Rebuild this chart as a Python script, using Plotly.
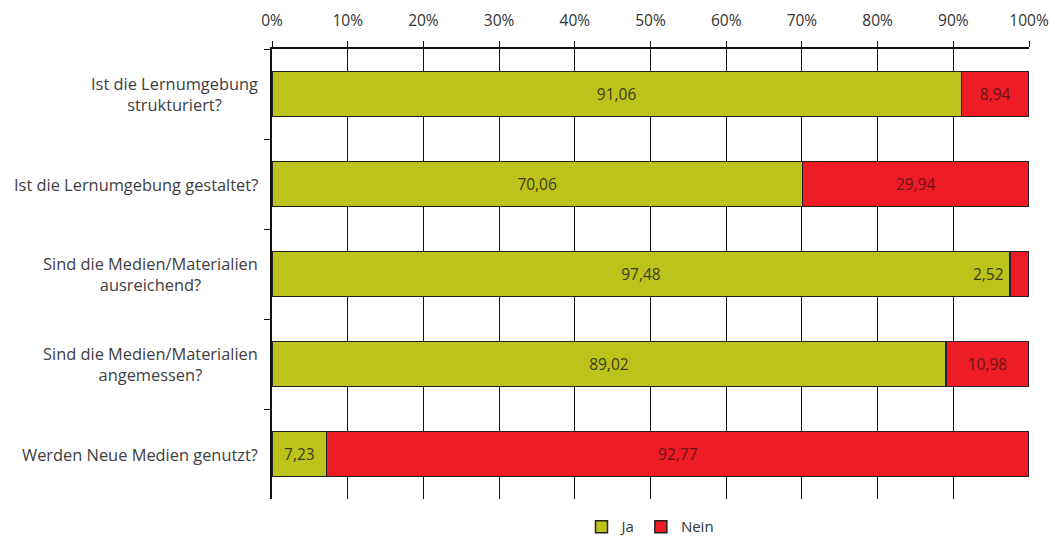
import plotly.graph_objects as go

categories = [
    "Ist die Lernumgebung<br>strukturiert?",
    "Ist die Lernumgebung gestaltet?",
    "Sind die Medien/Materialien<br>ausreichend?",
    "Sind die Medien/Materialien<br>angemessen?",
    "Werden Neue Medien genutzt?",
]
ja = [91.06, 70.06, 97.48, 89.02, 7.23]
nein = [8.94, 29.94, 2.52, 10.98, 92.77]
series_names = ["Ja", "Nein"]
x_ticks = [0, 10, 20, 30, 40, 50, 60, 70, 80, 90, 100]

GREEN = "#BDC31B"
RED = "#EE1C25"
FONT = "Open Sans"
LBL = 15.5


def fmt(v):
    return f"{v:.2f}".replace(".", ",")


ja_text = [fmt(v) if v >= 5 else "" for v in ja]
nein_text = [fmt(v) if v >= 5 else "" for v in nein]

fig = go.Figure()
fig.add_trace(go.Bar(
    y=categories, x=ja, name=series_names[0], orientation="h",
    marker=dict(color=GREEN, line=dict(color="#222222", width=1.5)),
    text=ja_text, textposition="inside", insidetextanchor="middle",
    textfont=dict(family=FONT, size=LBL, color="#3c3c1c"),
    width=0.5,
))
fig.add_trace(go.Bar(
    y=categories, x=nein, name=series_names[1], orientation="h",
    marker=dict(color=RED, line=dict(color="#222222", width=1.5)),
    text=nein_text, textposition="inside", insidetextanchor="middle",
    textfont=dict(family=FONT, size=LBL, color="#6a1616"),
    width=0.5,
))

annotations = []
for c in categories:
    annotations.append(dict(
        x=0, xref="paper", y=c, yref="y", text=c, showarrow=False,
        xanchor="right", align="center", xshift=-12,
        font=dict(family=FONT, size=16.4, color="#404040"),
    ))
for c, j, n in zip(categories, ja, nein):
    if n < 5:
        annotations.append(dict(
            x=j, y=c, text=fmt(n), showarrow=False, xanchor="right", xshift=-4,
            font=dict(family=FONT, size=LBL, color="#3c3c1c"),
        ))
    if j < 5:
        annotations.append(dict(
            x=j + n, y=c, text=fmt(j), showarrow=False, xanchor="left", xshift=4,
            font=dict(family=FONT, size=LBL, color="#6a1616"),
        ))

fig.update_layout(
    barmode="stack",
    width=1050, height=536,
    margin=dict(l=272, r=21, t=49, b=37, autoexpand=False),
    paper_bgcolor="white", plot_bgcolor="white",
    font=dict(family=FONT, size=15, color="#333333"),
    showlegend=True,
    legend=dict(orientation="h", x=0.5, xanchor="center",
                yref="container", y=0.017, yanchor="middle",
                traceorder="normal",
                font=dict(family=FONT, size=15, color="#333333"),
                itemwidth=30, tracegroupgap=0),
    annotations=annotations,
    xaxis=dict(
        side="top", range=[0, 100], tickvals=x_ticks,
        ticktext=[f"{v}%" for v in x_ticks],
        showgrid=True, gridcolor="#111111", gridwidth=1,
        showline=True, linecolor="#111111", linewidth=1.5,
        ticks="outside", ticklen=6, tickcolor="#111111",
        ticklabelstandoff=9,
        tickfont=dict(family=FONT, size=15.5, color="#333333"),
        zeroline=False, fixedrange=True, automargin=False,
    ),
    yaxis=dict(
        categoryorder="array", categoryarray=categories, autorange="reversed",
        showticklabels=False, showgrid=False,
        showline=True, linecolor="#111111", linewidth=1.5,
        ticks="outside", ticklen=6, tickcolor="#111111", tickson="boundaries",
        zeroline=False, fixedrange=True, automargin=False,
    ),
)

fig.write_html("out.html")
